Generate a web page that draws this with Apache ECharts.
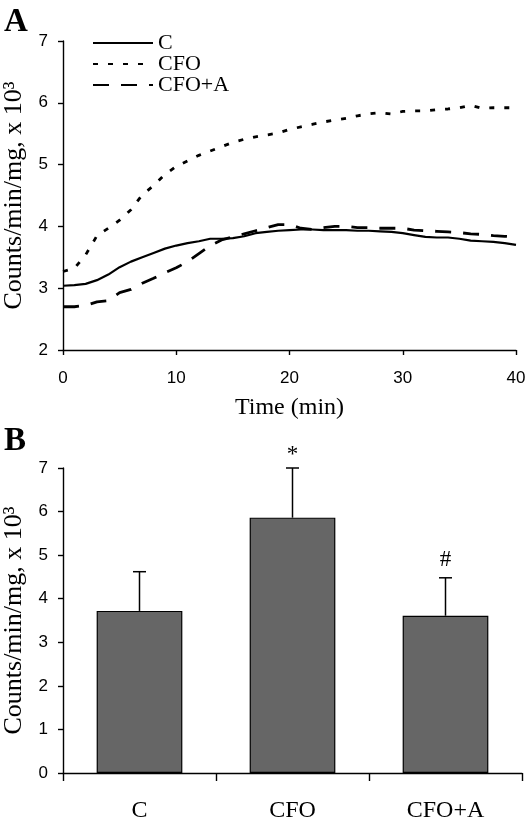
<!DOCTYPE html>
<html>
<head>
<meta charset="utf-8">
<script src="https://cdn.jsdelivr.net/npm/echarts@6/dist/echarts.min.js"></script>
<style>
html,body{margin:0;padding:0;background:#fff;}
#chart{width:529px;height:818px;}
</style>
</head>
<body>
<div id="chart"></div>
<script>
// ---------- Panel A: time course ----------
const times = [0,1,2,3,4,5,6,7,8,9,10,11,12,13,14,15,16,17,18,19,20,21,22,23,24,25,26,27,28,29,30,31,32,33,34,35,36,37,38,39,40];
const seriesC = [3.04,3.05,3.07,3.13,3.22,3.34,3.43,3.50,3.57,3.64,3.69,3.73,3.76,3.80,3.80,3.81,3.84,3.89,3.91,3.93,3.94,3.95,3.95,3.94,3.94,3.94,3.93,3.93,3.92,3.91,3.89,3.86,3.83,3.82,3.82,3.80,3.77,3.76,3.75,3.73,3.70];
const seriesCFO = [3.27,3.32,3.54,3.85,3.97,4.10,4.27,4.51,4.66,4.84,4.97,5.06,5.15,5.22,5.29,5.36,5.41,5.45,5.48,5.51,5.57,5.61,5.65,5.69,5.72,5.75,5.79,5.82,5.84,5.82,5.86,5.87,5.87,5.89,5.90,5.92,5.96,5.91,5.92,5.92,5.92];
const seriesCFOA = [2.70,2.70,2.72,2.78,2.80,2.93,2.98,3.08,3.16,3.25,3.33,3.43,3.56,3.69,3.78,3.83,3.88,3.93,3.98,4.03,4.03,3.97,3.95,3.98,4.00,4.00,3.98,3.98,3.97,3.97,3.97,3.94,3.93,3.92,3.91,3.90,3.88,3.87,3.85,3.84,3.83];
const seriesNames = ['C', 'CFO', 'CFO+A'];
const xTicksA = [0, 10, 20, 30, 40];
const yTicksA = [2, 3, 4, 5, 6, 7];

// ---------- Panel B: bar chart ----------
const categories = ['C', 'CFO', 'CFO+A'];
const barMeans = [3.72, 5.86, 3.61];
const barUpper = [4.62, 7.00, 4.48];
const annotations = ['', '*', '#'];
const yTicksB = [0, 1, 2, 3, 4, 5, 6, 7];

const SERIF = "'Liberation Serif','Times New Roman',serif";
const SANS = "'Liberation Sans',Arial,sans-serif";
const yName = 'Counts/min/mg, x 10\u00B3';

const chart = echarts.init(document.getElementById('chart'), null, {renderer: 'canvas'});

const axisLine = {show: true, lineStyle: {color: '#000', width: 1.4}};
const axisTick = {show: true, inside: false, length: 5, lineStyle: {color: '#000', width: 1.4}};
const tickLabel = {color: '#000', fontFamily: SANS, fontSize: 17};

const option = {
  animation: false,
  backgroundColor: '#fff',
  title: [
    {text: 'A', left: -1, top: 1, textStyle: {fontFamily: SERIF, fontWeight: 'bold', fontSize: 33, color: '#000'}},
    {text: 'B', left: -1, top: 420, textStyle: {fontFamily: SERIF, fontWeight: 'bold', fontSize: 33, color: '#000'}}
  ],
  legend: {
    data: seriesNames,
    orient: 'vertical',
    left: 87,
    top: 27,
    itemWidth: 60,
    itemHeight: 14,
    itemGap: -1,
    itemStyle: {opacity: 0},
    textStyle: {fontFamily: SERIF, fontSize: 22, color: '#000', lineHeight: 21},
    selectedMode: false
  },
  grid: [
    {left: 63, right: 13, top: 41, height: 309, outerBoundsMode: 'none', containLabel: false},
    {left: 63, right: 7, top: 468, height: 305, outerBoundsMode: 'none', containLabel: false}
  ],
  xAxis: [
    {
      gridIndex: 0, type: 'value', min: 0, max: 40, interval: 10,
      axisLine: axisLine, axisTick: axisTick,
      axisLabel: Object.assign({margin: 20}, tickLabel),
      splitLine: {show: false},
      name: 'Time (min)', nameLocation: 'middle', nameGap: 46,
      nameTextStyle: {fontFamily: SERIF, fontSize: 24, color: '#000'}
    },
    {
      gridIndex: 1, type: 'category', data: categories,
      axisLine: axisLine,
      axisTick: {show: true, inside: false, length: 8, alignWithLabel: false, lineStyle: {color: '#000', width: 1.4}},
      axisLabel: {margin: 26, color: '#000', fontFamily: SERIF, fontSize: 24},
      splitLine: {show: false}
    }
  ],
  yAxis: [
    {
      gridIndex: 0, type: 'value', min: 2, max: 7, interval: 1,
      axisLine: axisLine, axisTick: axisTick,
      axisLabel: Object.assign({margin: 15}, tickLabel),
      splitLine: {show: false},
      name: yName, nameLocation: 'middle', nameGap: 34,
      nameTextStyle: {fontFamily: SERIF, fontSize: 26, color: '#000'}
    },
    {
      gridIndex: 1, type: 'value', min: 0, max: 7, interval: 1,
      axisLine: axisLine, axisTick: axisTick,
      axisLabel: Object.assign({margin: 15}, tickLabel),
      splitLine: {show: false},
      name: yName, nameLocation: 'middle', nameGap: 34,
      nameTextStyle: {fontFamily: SERIF, fontSize: 26, color: '#000'}
    }
  ],
  series: [
    {
      name: seriesNames[0], type: 'line', xAxisIndex: 0, yAxisIndex: 0,
      showSymbol: false, symbol: 'none',
      lineStyle: {color: '#000', width: 2.2, type: 'solid'},
      itemStyle: {color: '#000'},
      data: times.map((t, i) => [t, seriesC[i]])
    },
    {
      name: seriesNames[1], type: 'line', xAxisIndex: 0, yAxisIndex: 0,
      showSymbol: false, symbol: 'none',
      lineStyle: {color: '#000', width: 2.8, type: [5, 10]},
      itemStyle: {color: '#000'},
      data: times.map((t, i) => [t, seriesCFO[i]])
    },
    {
      name: seriesNames[2], type: 'line', xAxisIndex: 0, yAxisIndex: 0,
      showSymbol: false, symbol: 'none',
      lineStyle: {color: '#000', width: 2.8, type: [16, 12]},
      itemStyle: {color: '#000'},
      data: times.map((t, i) => [t, seriesCFOA[i]])
    },
    {
      type: 'bar', xAxisIndex: 1, yAxisIndex: 1,
      barWidth: '56%',
      itemStyle: {color: '#666666', borderColor: '#000', borderWidth: 1.2},
      data: barMeans
    },
    {
      type: 'custom', xAxisIndex: 1, yAxisIndex: 1, z: 10,
      renderItem: function (params, api) {
        const idx = api.value(0);
        const top = api.coord([idx, api.value(2)]);
        const base = api.coord([idx, api.value(1)]);
        const lineStyle = {stroke: '#000', lineWidth: 1.5};
        const children = [
          {type: 'line', shape: {x1: base[0], y1: base[1], x2: top[0], y2: top[1]}, style: lineStyle},
          {type: 'line', shape: {x1: top[0] - 6.5, y1: top[1], x2: top[0] + 6.5, y2: top[1]}, style: lineStyle}
        ];
        const note = annotations[idx];
        if (note) {
          children.push({
            type: 'text',
            style: {
              text: note, x: top[0], y: top[1] - (note === '*' ? 2 : 6),
              align: 'center', verticalAlign: 'bottom',
              fontFamily: SERIF, fontSize: 23, fill: '#000'
            }
          });
        }
        return {type: 'group', children: children};
      },
      data: categories.map((c, i) => [i, barMeans[i], barUpper[i]])
    }
  ]
};
chart.setOption(option);
</script>
</body>
</html>
